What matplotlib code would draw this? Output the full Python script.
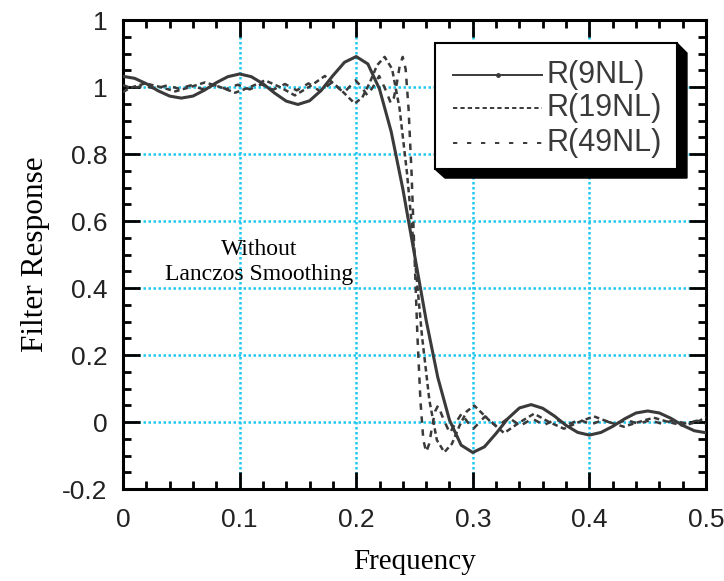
import matplotlib.pyplot as plt
from matplotlib.patches import Polygon, Rectangle
from matplotlib.ticker import FixedLocator, MultipleLocator

# filter response, 9 weights (sampled every 0.01)
freq_9 = [0.00, 0.01, 0.02, 0.03, 0.04, 0.05, 0.06, 0.07, 0.08, 0.09,
          0.10, 0.11, 0.12, 0.13, 0.14, 0.15, 0.16, 0.17, 0.18, 0.19,
          0.20, 0.21, 0.22, 0.23, 0.24, 0.25, 0.26, 0.27, 0.28, 0.29,
          0.30, 0.31, 0.32, 0.33, 0.34, 0.35, 0.36, 0.37, 0.38, 0.39,
          0.40, 0.41, 0.42, 0.43, 0.44, 0.45, 0.46, 0.47, 0.48, 0.49,
          0.50]
resp_9 = [1.032, 1.026, 1.010, 0.989, 0.973, 0.967, 0.973, 0.991, 1.013, 1.031,
          1.039, 1.031, 1.010, 0.982, 0.958, 0.948, 0.959, 0.990, 1.034, 1.074,
          1.091, 1.069, 0.994, 0.867, 0.696, 0.500, 0.304, 0.133, 0.006, -0.069,
          -0.091, -0.074, -0.034, 0.010, 0.042, 0.052, 0.041, 0.018, -0.010, -0.031,
          -0.039, -0.031, -0.013, 0.009, 0.027, 0.033, 0.027, 0.011, -0.010, -0.026,
          -0.032]

# filter response, 19 weights
freq_19 = [0.0000, 0.0064, 0.0192, 0.0321, 0.0449, 0.0577, 0.0705, 0.0833,
           0.0962, 0.1090, 0.1218, 0.1346, 0.1474, 0.1603, 0.1731, 0.1859,
           0.1987, 0.2051, 0.2115, 0.2179, 0.2244, 0.2308, 0.2372, 0.2436,
           0.2500, 0.2564, 0.2628, 0.2692, 0.2756, 0.2821, 0.2885, 0.2949,
           0.3013, 0.3141, 0.3269, 0.3397, 0.3526, 0.3654, 0.3782, 0.3910,
           0.4038, 0.4167, 0.4295, 0.4423, 0.4551, 0.4679, 0.4808, 0.4936,
           0.5000]
resp_19 = [0.985, 0.998, 1.011, 1.000, 0.987, 1.000, 1.014, 1.000,
           0.983, 1.000, 1.020, 1.000, 0.975, 1.002, 1.033, 0.995,
           0.951, 0.968, 1.012, 1.065, 1.090, 1.054, 0.936, 0.742,
           0.500, 0.258, 0.064, -0.054, -0.090, -0.065, -0.012, 0.032,
           0.049, 0.005, -0.033, -0.002, 0.025, 0.000, -0.020, 0.000,
           0.017, 0.000, -0.014, 0.000, 0.013, 0.000, -0.011, 0.002,
           0.015]

# filter response, 49 weights
freq_49 = [0.0000, 0.0076, 0.0177, 0.0278, 0.0379, 0.0480, 0.0581, 0.0682,
           0.0783, 0.0884, 0.0985, 0.1086, 0.1187, 0.1288, 0.1389, 0.1490,
           0.1591, 0.1692, 0.1793, 0.1894, 0.1995, 0.2046, 0.2096, 0.2147,
           0.2197, 0.2248, 0.2298, 0.2323, 0.2349, 0.2374, 0.2399, 0.2424,
           0.2449, 0.2475, 0.2500, 0.2525, 0.2551, 0.2576, 0.2601, 0.2626,
           0.2652, 0.2677, 0.2702, 0.2753, 0.2803, 0.2854, 0.2904, 0.2955,
           0.3005, 0.3106, 0.3207, 0.3308, 0.3409, 0.3510, 0.3611, 0.3712,
           0.3813, 0.3914, 0.4015, 0.4116, 0.4217, 0.4318, 0.4419, 0.4520,
           0.4621, 0.4722, 0.4823, 0.4924, 0.5000]
resp_49 = [1.006, 0.996, 1.004, 0.995, 1.005, 0.995, 1.005, 0.994,
           1.006, 0.994, 1.007, 0.993, 1.008, 0.992, 1.009, 0.990,
           1.011, 0.987, 1.014, 0.983, 1.020, 1.000, 0.975, 1.002,
           1.033, 0.995, 0.951, 0.968, 1.012, 1.065, 1.090, 1.054,
           0.936, 0.742, 0.500, 0.258, 0.064, -0.054, -0.090, -0.065,
           -0.012, 0.032, 0.049, 0.005, -0.033, -0.002, 0.025, 0.000,
           -0.020, 0.017, -0.014, 0.013, -0.011, 0.010, -0.009, 0.008,
           -0.008, 0.007, -0.007, 0.006, -0.006, 0.006, -0.005, 0.005,
           -0.005, 0.005, -0.004, 0.004, -0.006]

series_labels = ['R(9NL)', 'R(19NL)', 'R(49NL)']
xtick_values = [0, 0.1, 0.2, 0.3, 0.4, 0.5]
xtick_labels = ['0', '0.1', '0.2', '0.3', '0.4', '0.5']
ytick_values = [-0.2, 0, 0.2, 0.4, 0.6, 0.8, 1.0, 1.2]
ytick_labels = ['-0.2', '0', '0.2', '0.4', '0.6', '0.8', '1', '1']

ink = '#3a3a3a'
grid_col = '#1ec8f0'
sans = 'Liberation Sans'
serif = 'Liberation Serif'

fig = plt.figure(figsize=(7.24, 5.81), dpi=100)
ax = fig.add_axes([0.1699, 0.1583, 0.8052, 0.8072])

# three responses
styles = [dict(ls='-', lw=2.2),
          dict(ls=(0, (2.2, 1.4)), lw=1.8),
          dict(ls=(0, (2.6, 2.6)), lw=1.8)]
for xs, ys, st in zip([freq_9, freq_19, freq_49], [resp_9, resp_19, resp_49], styles):
    ax.plot(xs, ys, color=ink, solid_joinstyle='round', zorder=3, **st)

ax.set_xlim(0, 0.5)
ax.set_ylim(-0.2, 1.2)

ax.xaxis.set_major_locator(FixedLocator(xtick_values))
ax.set_xticklabels(xtick_labels)
ax.xaxis.set_minor_locator(MultipleLocator(0.02))
ax.yaxis.set_major_locator(FixedLocator(ytick_values))
ax.set_yticklabels(ytick_labels)
ax.yaxis.set_minor_locator(MultipleLocator(0.05))

ax.tick_params(which='both', direction='in', top=True, right=True,
               width=2, color='black')
ax.tick_params(which='major', length=12)
ax.tick_params(which='minor', length=6)
ax.tick_params(axis='x', which='major', pad=14, labelsize=19)
ax.tick_params(axis='y', which='major', pad=11, labelsize=19)
for lab in ax.get_xticklabels() + ax.get_yticklabels():
    lab.set_fontfamily(sans)
    lab.set_color('#222222')

for sp in ax.spines.values():
    sp.set_linewidth(2.2)

ax.grid(True, which='major', color=grid_col, ls=(0, (1, 1)), lw=1.8, zorder=1)
ax.set_axisbelow(True)

ax.set_xlabel('Frequency', family=serif, fontsize=21, labelpad=12)
ax.set_ylabel('Filter Response', family=serif, fontsize=22.5, labelpad=9)

ax.text(0.1166, 0.478, 'Without\nLanczos Smoothing', family=serif, fontsize=17,
        ha='center', va='center', linespacing=1.25, zorder=4)

# legend box with extruded shadow
shadow = Polygon([(0.5352, 0.6823), (0.5523, 0.6631), (0.9674, 0.6631),
                  (0.9674, 0.9296), (0.9503, 0.951)],
                 closed=True, transform=ax.transAxes, facecolor='black',
                 edgecolor='black', zorder=5)
ax.add_patch(shadow)
box = Rectangle((0.5352, 0.6823), 0.4151, 0.2687, transform=ax.transAxes,
                facecolor='white', edgecolor='black', lw=1.5, zorder=6)
ax.add_patch(box)

row_y = [0.883, 0.812, 0.737]
legend_styles = [dict(ls='-', lw=1.4),
                 dict(ls=(0, (2.2, 1.6)), lw=1.4),
                 dict(ls=(0, (2.2, 5.0)), lw=1.4)]
for y, lab, st in zip(row_y, series_labels, legend_styles):
    ax.plot([0.566, 0.719], [y, y], color=ink, transform=ax.transAxes,
            zorder=7, clip_on=False, **st)
    ax.text(0.727, y, lab, transform=ax.transAxes, family=sans, fontsize=22,
            color=ink, ha='left', va='center', zorder=7)
ax.plot([0.6425], [row_y[0]], 'o', ms=2.5, color=ink, transform=ax.transAxes,
        zorder=7)

fig.savefig('out.png', dpi=100)
